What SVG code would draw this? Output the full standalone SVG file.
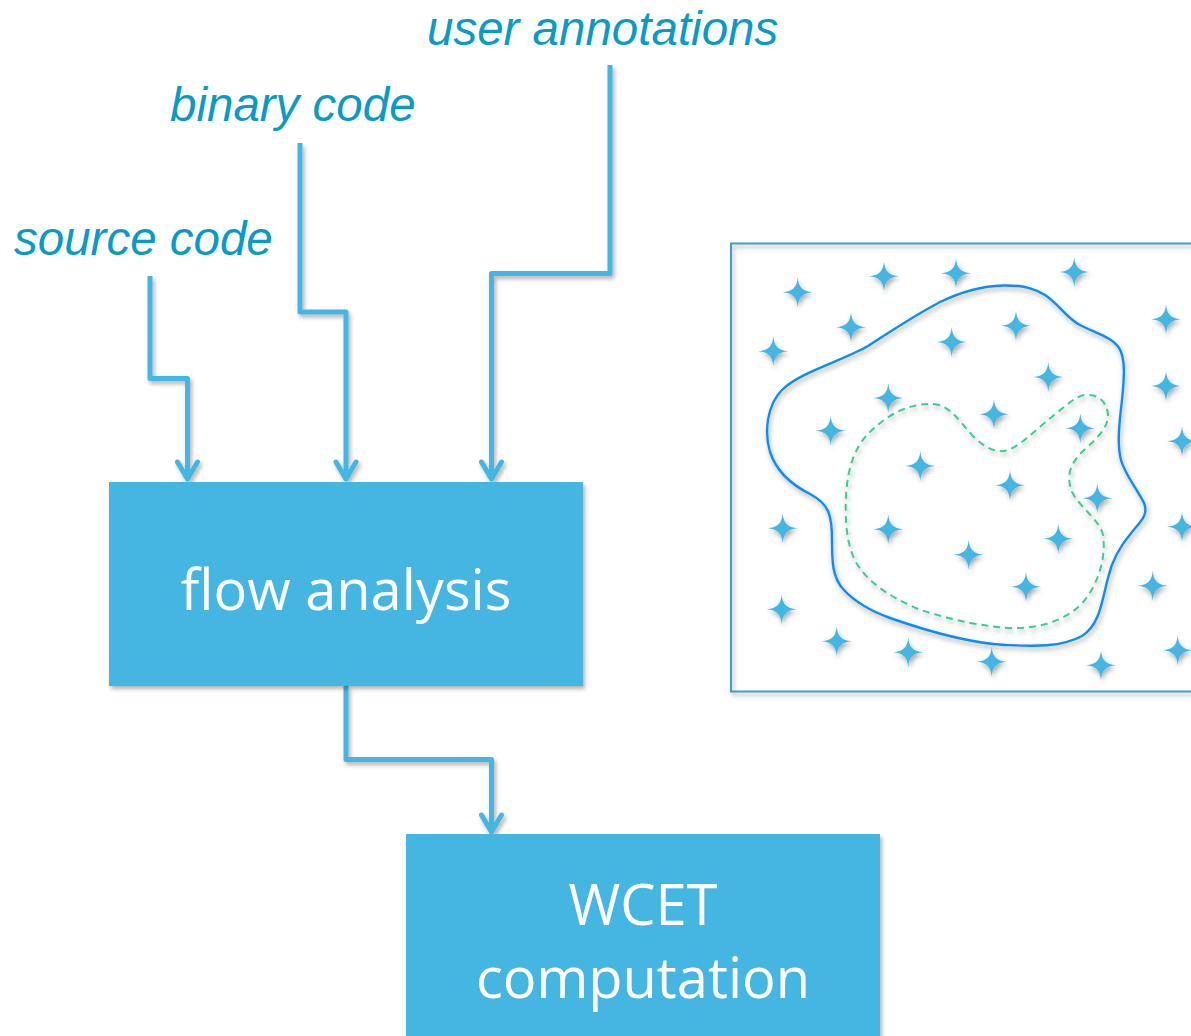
<svg xmlns="http://www.w3.org/2000/svg" width="1191" height="1036" viewBox="0 0 1191 1036">
  <defs>
    <filter id="shadow" x="-20%" y="-20%" width="140%" height="140%">
      <feDropShadow dx="2" dy="3" stdDeviation="2" flood-color="#000" flood-opacity="0.3"/>
    </filter>
    <filter id="soft" x="-50%" y="-50%" width="200%" height="200%">
      <feDropShadow dx="1.5" dy="3" stdDeviation="2.5" flood-color="#000" flood-opacity="0.35"/>
    </filter>
    <path id="star" d="M 0 -15 C 0.8 -5 5 -0.8 15 0 C 5 0.8 0.8 5 0 15 C -0.8 5 -5 0.8 -15 0 C -5 -0.8 -0.8 -5 0 -15 Z"/>
  </defs>
  <style>
    .label { font-family: "Liberation Sans", Arial, sans-serif; font-style: italic; font-size: 47.5px; fill: #0a9ac6; }
    .node rect { fill: #44b6e1; }
    .node text { font-family: "Open Sans", "Noto Sans", sans-serif; font-size: 56px; fill: #ffffff; text-anchor: middle; }
    .wire, .head { fill: none; stroke: #44b6e1; stroke-width: 5; stroke-linejoin: round; }
    .head { stroke-linecap: round; }
    .stars use { fill: #44b6e1; }
  </style>
  <rect width="1191" height="1036" fill="#ffffff"/>

  <!-- input labels -->
  <g id="label-user">
    <text class="label" x="427" y="45">user annotations</text>
  </g>
  <g id="label-binary">
    <text class="label" x="170" y="121">binary code</text>
  </g>
  <g id="label-source">
    <text class="label" x="14" y="255">source code</text>
  </g>

  <!-- connectors -->
  <g id="connectors" filter="url(#shadow)">
    <path class="wire" d="M 150 276 V 378.5 H 187.5 V 478"/>
    <path class="head" d="M 177.5 462 L 187.5 479 L 197.5 462"/>
    <path class="wire" d="M 300 143 V 312 H 346 V 478"/>
    <path class="head" d="M 336 462 L 346 479 L 356 462"/>
    <path class="wire" d="M 610 65 V 273.5 H 491.5 V 478"/>
    <path class="head" d="M 481.5 462 L 491.5 479 L 501.5 462"/>
    <path class="wire" d="M 346 686 V 759.5 H 491.5 V 831"/>
    <path class="head" d="M 481.5 815 L 491.5 832 L 501.5 815"/>
  </g>

  <!-- processing steps -->
  <g id="flow-analysis" class="node">
    <rect x="109" y="482" width="474" height="204" filter="url(#shadow)"/>
    <text x="346" y="610">flow analysis</text>
  </g>
  <g id="wcet" class="node">
    <rect x="406" y="834" width="474" height="210" filter="url(#shadow)"/>
    <text x="643" y="925">WCET</text>
    <text x="643" y="998">computation</text>
  </g>

  <!-- state-space sketch -->
  <g id="state-space">
    <rect x="731" y="243.5" width="480" height="448" fill="none" stroke="#3aa0c0" stroke-width="2" filter="url(#shadow)"/>
    <path filter="url(#soft)" fill="none" stroke="#0f8cf2" stroke-width="2.4"
      d="M 1003 285.5 C 1025 285 1035 289 1045 295 C 1060 305 1066 318 1080 325 C 1095 333 1112 337 1119 348
         C 1126 358 1124 380 1122 400 C 1119 425 1117 445 1121 460 C 1125 475 1138 490 1144 503
         C 1149 515 1140 522 1132 532 C 1120 546 1112 560 1108 578 C 1102 600 1100 625 1082 636
         C 1060 648 1030 646 1005 645 C 970 643 930 632 890 618 C 868 610 855 602 844 590
         C 832 578 832 560 832 540 C 832 515 829 504 810 494 C 790 484 776 470 770 452
         C 764 432 767 405 782 390 C 800 372 840 362 868 346 C 890 332 910 318 940 302
         C 965 290 985 286 1003 285.5 Z"/>
    <path filter="url(#soft)" fill="none" stroke="#3dcc8e" stroke-width="2" stroke-dasharray="7 5"
      d="M 933 404 C 950 405 958 420 973 436 C 985 448 995 452 1004 451 C 1018 449 1035 430 1053 416
         C 1068 404 1076 396 1085 395 C 1097 394 1106 400 1108 414 C 1109 428 1095 440 1082 452
         C 1070 464 1066 476 1072 492 C 1080 508 1100 520 1103 535 C 1106 555 1100 580 1085 600
         C 1070 618 1045 628 1015 628 C 990 628 950 620 918 609 C 893 598 870 585 857 564
         C 846 545 845 520 846 495 C 848 465 856 445 870 432 C 888 414 910 403 933 404 Z"/>
    <g class="stars" filter="url(#soft)">
      <use href="#star" x="797.7" y="292.3"/>
      <use href="#star" x="884" y="276.3"/>
      <use href="#star" x="956" y="273.3"/>
      <use href="#star" x="1074.3" y="272"/>
      <use href="#star" x="851" y="327.3"/>
      <use href="#star" x="773.3" y="351.3"/>
      <use href="#star" x="951.7" y="342"/>
      <use href="#star" x="1016" y="325.7"/>
      <use href="#star" x="1166" y="319.3"/>
      <use href="#star" x="1048.3" y="377"/>
      <use href="#star" x="1166" y="386"/>
      <use href="#star" x="888.3" y="398"/>
      <use href="#star" x="830.7" y="430.7"/>
      <use href="#star" x="994" y="414.3"/>
      <use href="#star" x="1080.3" y="428.3"/>
      <use href="#star" x="1182" y="441.3"/>
      <use href="#star" x="920.3" y="466"/>
      <use href="#star" x="1010" y="485.3"/>
      <use href="#star" x="1097.3" y="498.3"/>
      <use href="#star" x="782.7" y="528.3"/>
      <use href="#star" x="888.3" y="529.3"/>
      <use href="#star" x="1058.3" y="538.7"/>
      <use href="#star" x="1182" y="526.7"/>
      <use href="#star" x="968.7" y="554.7"/>
      <use href="#star" x="1026" y="586.7"/>
      <use href="#star" x="1152.7" y="585.7"/>
      <use href="#star" x="781.7" y="609.3"/>
      <use href="#star" x="836.7" y="641.3"/>
      <use href="#star" x="908.3" y="652.3"/>
      <use href="#star" x="991.7" y="661.7"/>
      <use href="#star" x="1101" y="665.3"/>
      <use href="#star" x="1177.7" y="650.3"/>
    </g>
  </g>
</svg>
